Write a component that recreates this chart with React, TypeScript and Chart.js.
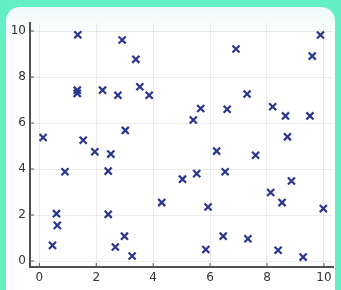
import React, { useEffect, useRef } from "react";
import { Chart, registerables } from "chart.js";

Chart.register(...registerables);

const xValues = [0.13, 0.46, 0.60, 0.63, 0.90, 1.35, 1.33, 1.33, 1.54, 1.95, 2.22, 2.42, 2.51, 2.42, 2.67, 2.76, 2.91, 3.02, 2.99, 3.26, 3.39, 3.53, 3.86, 4.30, 5.03, 5.41, 5.53, 5.67, 5.85, 5.93, 6.23, 6.46, 6.53, 6.60, 6.91, 7.30, 7.33, 7.60, 8.13, 8.20, 8.39, 8.53, 8.65, 8.72, 8.86, 9.27, 9.51, 9.59, 9.88, 9.98];
const yValues = [5.37, 0.68, 2.06, 1.55, 3.88, 9.84, 7.43, 7.29, 5.25, 4.75, 7.43, 3.91, 4.65, 2.03, 0.61, 7.21, 9.61, 5.68, 1.08, 0.22, 8.77, 7.58, 7.21, 2.54, 3.56, 6.13, 3.80, 6.63, 0.50, 2.35, 4.78, 1.08, 3.88, 6.60, 9.22, 7.26, 0.97, 4.60, 2.98, 6.71, 0.47, 2.54, 6.31, 5.40, 3.48, 0.17, 6.31, 8.91, 9.83, 2.28];
const tickValues = [0, 2, 4, 6, 8, 10];

const innerTicks = {
  id: "innerTicks",
  afterDatasetsDraw(chart: any) {
    const { ctx, chartArea, scales } = chart;
    ctx.save();
    ctx.strokeStyle = "#555";
    ctx.lineWidth = 1;
    tickValues.forEach((v) => {
      const x = scales.x.getPixelForValue(v);
      ctx.beginPath();
      ctx.moveTo(x, chartArea.bottom);
      ctx.lineTo(x, chartArea.bottom - 4);
      ctx.stroke();
      const y = scales.y.getPixelForValue(v);
      ctx.beginPath();
      ctx.moveTo(chartArea.left, y);
      ctx.lineTo(chartArea.left + 4, y);
      ctx.stroke();
    });
    ctx.restore();
  },
};

export default function App() {
  const ref = useRef<HTMLCanvasElement>(null);
  useEffect(() => {
    document.body.style.margin = "0";
    const data = xValues.map((x, i) => ({ x, y: yValues[i] }));
    const chart = new Chart(ref.current!, {
      type: "scatter",
      data: {
        datasets: [
          {
            data,
            pointStyle: "crossRot",
            pointRadius: 5,
            pointBorderWidth: 2.2,
            borderColor: "#2a3590",
            backgroundColor: "#2a3590",
          },
        ],
      },
      options: {
        animation: false,
        responsive: false,
        devicePixelRatio: 1,
        layout: { padding: { left: 0, right: 8, top: 23, bottom: 0 } },
        plugins: { legend: { display: false }, tooltip: { enabled: false } },
        scales: {
          x: {
            type: "linear",
            min: -0.33,
            max: 10.32,
            afterBuildTicks: (s: any) => {
              s.ticks = tickValues.map((v) => ({ value: v }));
            },
            afterFit: (s: any) => {
              s.height = 23;
            },
            grid: { color: "rgba(0,0,0,0.08)", drawTicks: false },
            border: { color: "#505050", width: 2 },
            ticks: {
              padding: 4,
              color: "#333",
              font: { family: "DejaVu Sans", size: 12 },
              maxRotation: 0,
            },
          },
          y: {
            type: "linear",
            min: -0.26,
            max: 10.35,
            afterBuildTicks: (s: any) => {
              s.ticks = tickValues.map((v) => ({ value: v }));
            },
            afterFit: (s: any) => {
              s.width = 30;
            },
            grid: { color: "rgba(0,0,0,0.08)", drawTicks: false },
            border: { color: "#505050", width: 2 },
            ticks: {
              padding: 4,
              color: "#333",
              font: { family: "DejaVu Sans", size: 12 },
            },
          },
        },
      },
      plugins: [innerTicks],
    });
    return () => chart.destroy();
  }, []);

  return (
    <div style={{ position: "fixed", left: 0, top: 0, width: 341, height: 290, background: "#62efc3", overflow: "hidden" }}>
      <div
        style={{
          position: "absolute",
          left: 6,
          top: 7,
          width: 329,
          height: 310,
          borderRadius: 14,
          background: "linear-gradient(#eefaf8 0px, #ffffff 30px)",
        }}
      />
      <canvas ref={ref} width={341} height={290} style={{ position: "absolute", left: 0, top: 0, width: 341, height: 290 }} />
    </div>
  );
}
